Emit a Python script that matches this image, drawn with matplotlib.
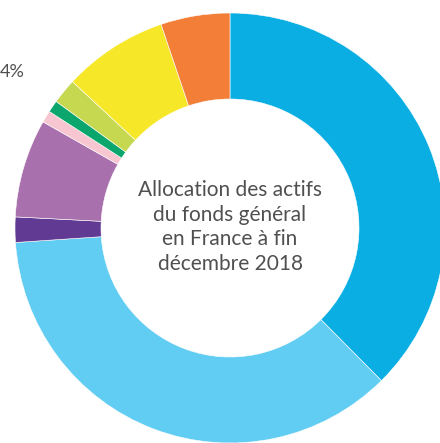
import matplotlib
matplotlib.use("Agg")
import matplotlib.pyplot as plt

# parts du fonds général (%), dans le sens horaire à partir du haut
valeurs = [37.6, 36.4, 1.9, 7.4, 0.9, 0.9, 1.9, 7.9, 5.2]
couleurs = ["#0AAEE3", "#62CDF2", "#613A93", "#A870AD", "#F7C6D0",
            "#0BA66E", "#C5D84F", "#F6E829", "#F27E38"]
titre = "Allocation des actifs\ndu fonds général\nen France à fin\ndécembre 2018"

fig = plt.figure(figsize=(4.4, 4.43), dpi=100)
ax = fig.add_axes([0, 0, 1, 1])

cx, cy, r = 230, 443 - 228, 215
ax.pie(valeurs, colors=couleurs, startangle=90, counterclock=False,
       center=(cx, cy), radius=r, frame=True,
       wedgeprops=dict(width=r - 129, edgecolor="white", linewidth=0.4))
ax.set_xlim(0, 440)
ax.set_ylim(0, 443)
ax.set_aspect("equal")
ax.axis("off")

ax.text(cx, cy + 1, titre, ha="center", va="center", fontsize=15,
        color="#505050", family="Lato", linespacing=1.3)
ax.text(0, 443 - 72, "4%", ha="left", va="center", fontsize=13,
        color="#505050", family="Lato")

fig.savefig("out.png", dpi=100)
